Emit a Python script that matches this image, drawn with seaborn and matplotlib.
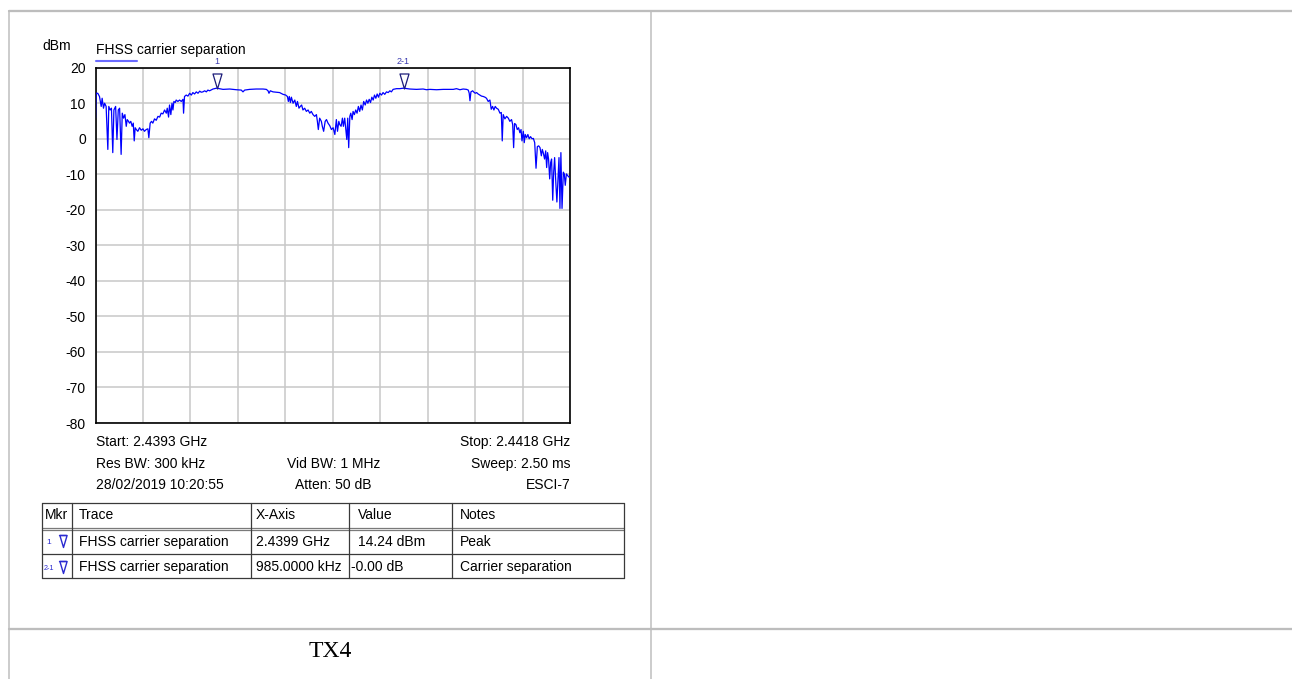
import numpy as np
import pandas as pd
import matplotlib
matplotlib.use("Agg")
import matplotlib.pyplot as plt
import seaborn as sns
from matplotlib.lines import Line2D
from matplotlib.path import Path
import matplotlib.transforms as mtransforms

# ---------------- data ----------------
start_mhz = 2439.3
stop_mhz = 2441.8
freq_khz = [
    0, 3, 12, 21, 30, 35, 42, 48, 56, 65, 70, 77, 84, 91, 97, 106, 113, 120, 127, 135,
    141, 148, 155, 162, 167, 174, 179, 186, 193, 199, 204, 209, 215, 223, 232, 241, 250,
    258, 267, 276, 281, 288, 295, 302, 311, 320, 329, 338, 346, 355, 364, 373, 378, 385,
    390, 397, 403, 408, 413, 420, 425, 434, 443, 452, 461, 464, 469, 478, 487, 496, 505,
    513, 522, 531, 540, 549, 557, 566, 575, 584, 592, 601,
    619, 638, 672, 707, 742, 768, 777, 786, 812, 847, 883, 900, 909, 914, 921, 935, 953,
    970, 988, 1002, 1011, 1016, 1021, 1027, 1032, 1041, 1050, 1058, 1064, 1072, 1079,
    1086, 1093, 1102, 1111, 1120, 1129, 1137, 1146, 1155, 1164, 1169, 1174, 1181, 1190,
    1195, 1202, 1210, 1217, 1225, 1234,
    1243, 1252, 1261, 1269, 1275, 1282, 1287, 1294, 1301, 1306, 1313, 1319, 1324, 1329,
    1334, 1340, 1345, 1352, 1357, 1364, 1371, 1378, 1385, 1392, 1399, 1406, 1413, 1421,
    1428, 1435, 1442, 1449, 1456, 1463, 1470, 1477, 1484, 1491, 1498, 1507, 1515, 1524,
    1533, 1542, 1551, 1559, 1568, 1586, 1603, 1623, 1656, 1691, 1726, 1744, 1762, 1797,
    1832, 1867,
    1885, 1902, 1920, 1937, 1955, 1964, 1969, 1973, 1978, 1987, 1994, 2001, 2008, 2016,
    2025, 2034, 2043, 2052, 2060, 2069, 2078, 2085, 2092, 2099, 2106, 2113, 2122, 2131,
    2138, 2143, 2148, 2157, 2166, 2175, 2183, 2192, 2198, 2203, 2208, 2215, 2222, 2229,
    2236, 2242, 2247, 2254, 2259, 2264, 2271, 2278, 2285, 2292, 2300, 2307, 2314, 2321,
    2328, 2335, 2342, 2349, 2354, 2359, 2366, 2372, 2377, 2382, 2387, 2393, 2398, 2403,
    2409, 2414, 2419, 2426, 2431, 2437, 2442, 2447, 2452, 2458, 2465, 2470, 2475, 2481,
    2488, 2495, 2500,
]
level_dbm = [
    5.8, 12.8, 12.8, 11.9, 9.1, 11.4, 8.6, 10.0, 9.1, -3.0, 9.1, 8.1, 8.6, -3.9, 8.1, 9.1,
    -0.2, 8.1, 8.6, -4.4, 7.2, 5.8, 6.8, 3.5, 5.4, 4.9, 4.4, 4.9, 3.5, 4.4, -0.6, 3.1, 2.6,
    2.1, 3.1, 2.4, 2.8, 2.1, 2.6, 2.8, 0.3, 4.4, 4.9, 4.4, 5.6, 5.2, 6.3, 6.1, 7.2, 7.0,
    8.1, 7.2, 8.6, 6.1, 9.5, 6.8, 10.0, 8.1, 10.5, 10.2, 10.9, 10.5, 10.9, 10.5, 11.1, 7.2,
    11.9, 12.3, 12.0, 12.8, 12.3, 13.0, 12.6, 13.2, 12.8, 13.4, 13.1, 13.2, 13.5, 13.2,
    13.7, 13.5,
    14.0, 14.24, 13.9, 14.0, 13.8, 13.7, 13.2, 13.7, 13.9, 14.0, 14.0, 13.9, 13.5, 12.8,
    13.5, 13.2, 13.1, 13.0, 12.5, 12.3, 11.9, 10.5, 11.9, 10.2, 11.7, 10.0, 10.9, 9.1,
    10.5, 8.6, 9.1, 9.5, 8.1, 8.6, 7.7, 8.1, 7.2, 7.7, 6.8, 6.3, 6.8, 4.9, 2.6, 5.8, 4.9,
    3.5, 2.1, 4.9, 5.4, 4.4, 3.7,
    2.6, 3.1, 1.2, 5.4, 2.1, 4.9, 4.0, 3.5, 5.8, 3.5, 5.8, 2.6, -0.2, 5.8, -2.5, 6.3, 7.2,
    5.4, 7.7, 6.8, 8.1, 7.2, 9.1, 7.7, 9.5, 8.1, 10.5, 9.5, 10.9, 10.0, 11.1, 10.2, 11.7,
    10.9, 12.3, 11.4, 12.6, 11.7, 12.8, 12.3, 13.0, 12.5, 13.2, 13.0, 13.5, 13.2, 13.9,
    14.1, 14.1, 14.24, 14.0, 13.9, 14.0, 13.8, 13.9, 13.8, 13.9, 13.9,
    13.9, 14.1, 13.8, 14.0, 13.9, 13.7, 12.8, 10.7, 13.2, 13.5, 13.1, 12.8, 13.0, 12.6,
    12.3, 12.0, 11.9, 11.7, 11.4, 10.5, 10.9, 8.3, 9.1, 8.1, 9.1, 8.6, 8.3, 7.2, 7.4, -0.6,
    6.8, 5.6, 6.3, 5.8, 4.9, 5.4, 4.0, -2.5, 4.3, 4.0, 2.6, 3.1, 1.7, 2.6, -0.6, 2.1, -1.1,
    1.2, 0.3, 1.2, 0.0, 0.6, 0.0, 0.1, -1.1, -8.3, -2.2, -2.0, -2.5, -4.8, -3.0, -3.9,
    -5.7, -3.4, -8.1, -3.9, -5.7, -11.3, -6.7, -5.7, -17.3, -9.4, -5.3, -13.1, -17.8,
    -11.3, -5.3, -19.6, -3.9, -19.6, -9.4, -9.9, -13.1, -9.9, -10.4, -10.8, -10.8,
]
y_ticks = [20, 10, 0, -10, -20, -30, -40, -50, -60, -70, -80]

marker_labels = ["1", "2-1"]
marker_freq_khz = [638, 1623]
marker_level = [14.24, 14.24]

trace_name = "FHSS carrier separation"
unit_label = "dBm"
info_left = ["Start: 2.4393 GHz", "Res BW: 300 kHz", "28/02/2019 10:20:55"]
info_mid = ["", "Vid BW: 1 MHz", "Atten: 50 dB"]
info_right = ["Stop: 2.4418 GHz", "Sweep: 2.50 ms", "ESCI-7"]

table_header = ["Mkr", "Trace", "X-Axis", "Value", "Notes"]
table_mkr = ["1", "2-1"]
table_trace = ["FHSS carrier separation", "FHSS carrier separation"]
table_xaxis = ["2.4399 GHz", "985.0000 kHz"]
table_value = ["14.24 dBm", "-0.00 dB"]
table_notes = ["Peak", "Carrier separation"]
caption = "TX4"

# ---------------- figure ----------------
W, H = 1292, 679
sns.set_style("white")
plt.rcParams["font.family"] = ["Liberation Sans", "DejaVu Sans"]
plt.rcParams["text.color"] = "black"
plt.rcParams["ytick.color"] = "black"

fig = plt.figure(figsize=(W / 100, H / 100), dpi=100)


def fx(x):
    return x / W


def fy(y):
    return 1 - y / H


PT = 72 / 100  # points per pixel

ax = fig.add_axes([fx(95.5), fy(423), fx(570) - fx(95.5), fy(67.7) - fy(423)])

df = pd.DataFrame({
    "freq": start_mhz + np.asarray(freq_khz, dtype=float) / 1000.0,
    "level": level_dbm,
})
sns.lineplot(data=df, x="freq", y="level", ax=ax, color="#0000ff", lw=0.9,
             estimator=None, sort=False, zorder=3)

ax.set_xlim(start_mhz, stop_mhz)
ax.set_ylim(-80, 20)
ax.set_xticks(np.linspace(start_mhz, stop_mhz, 11))
ax.set_yticks(y_ticks)
ax.set_yticklabels([str(v) for v in y_ticks])
ax.tick_params(axis="x", length=0, labelbottom=False)
ax.tick_params(axis="y", length=0, pad=7, labelsize=10, labelcolor="black")
ax.set_xlabel("")
ax.set_ylabel("")
ax.grid(True, color="#c8c8c8", lw=1.1)
ax.set_axisbelow(True)
for s in ax.spines.values():
    s.set_color("black")
    s.set_linewidth(1.2)
    s.set_visible(True)

# markers
tri = Path([(-0.3, 0.5), (0.3, 0.5), (0.0, -0.5), (-0.3, 0.5)],
           [Path.MOVETO, Path.LINETO, Path.LINETO, Path.CLOSEPOLY])
mk_trans = mtransforms.offset_copy(ax.transData, fig=fig, x=0, y=7.5 * PT, units="points")
mx = start_mhz + np.asarray(marker_freq_khz, dtype=float) / 1000.0
ax.plot(mx, marker_level, ls="none", marker=tri, ms=15 * PT, mfc="none",
        mec="#1c1c7a", mew=0.9, transform=mk_trans, clip_on=False, zorder=4)
for lab, f in zip(marker_labels, mx):
    ax.annotate(lab, xy=(f, 20), xycoords="data", xytext=(0, 6.5 * PT),
                textcoords="offset points", ha="center", va="center",
                fontsize=6.5, color="#3a3ab0", annotation_clip=False)

# legend / labels above plot
fig.text(fx(42), fy(49.7), unit_label, fontsize=10, ha="left", va="baseline")
fig.text(fx(95.7), fy(53.7), trace_name, fontsize=10, ha="left", va="baseline")
fig.add_artist(Line2D([fx(96), fx(137)], [fy(60.7), fy(60.7)], color="#6a6aff", lw=1.5))

# info rows
rows_y = [446.4, 468.0, 489.0]
for i, yb in enumerate(rows_y):
    fig.text(fx(95.7), fy(yb), info_left[i], fontsize=10, ha="left", va="baseline")
    if info_mid[i]:
        fig.text(fx(333.5), fy(yb), info_mid[i], fontsize=10, ha="center", va="baseline")
    fig.text(fx(570.7), fy(yb), info_right[i], fontsize=10, ha="right", va="baseline")

# table
t_left, t_right = 42, 624
t_top, t_hdr1, t_hdr2, t_row1, t_bot = 502.7, 527.6, 530.0, 554.3, 578.3
col_div = [71.7, 250.6, 348.5, 452.3]
lc = "#3a3a3a"
for y in [t_top, t_row1, t_bot]:
    fig.add_artist(Line2D([fx(t_left), fx(t_right)], [fy(y), fy(y)], color=lc, lw=0.9))
for y in [t_hdr1, t_hdr2]:
    fig.add_artist(Line2D([fx(t_left), fx(t_right)], [fy(y), fy(y)], color="#7a7a7a", lw=0.9))
for x in [t_left] + col_div + [t_right]:
    fig.add_artist(Line2D([fx(x), fx(x)], [fy(t_top), fy(t_bot)], color=lc, lw=0.9))

hdr_x = [45, 79, 256, 358, 460]
hdr_b = 519.0
for x, txt in zip(hdr_x, table_header):
    fig.text(fx(x), fy(hdr_b), txt, fontsize=10, ha="left", va="baseline")

row_b = [545.7, 571.4]
row_c = [541.0, 566.7]
value_x = [358, 350.7]
mkr_x = [49.0, 48.6]
mkr_fs = [6.0, 5.2]
for i in range(2):
    yb = row_b[i]
    fig.text(fx(79), fy(yb), table_trace[i], fontsize=10, ha="left", va="baseline")
    fig.text(fx(256), fy(yb), table_xaxis[i], fontsize=10, ha="left", va="baseline")
    fig.text(fx(value_x[i]), fy(yb), table_value[i], fontsize=10, ha="left", va="baseline")
    fig.text(fx(460), fy(yb), table_notes[i], fontsize=10, ha="left", va="baseline")
    fig.text(fx(mkr_x[i]), fy(row_c[i] + 1.5), table_mkr[i], fontsize=mkr_fs[i],
             color="#2a2ad0", ha="center", va="center")
    fig.add_artist(Line2D([fx(62.5)], [fy(row_c[i])], ls="none", marker=tri, ms=12 * PT,
                          mfc="none", mec="#2a2ad0", mew=1.0))
    fig.add_artist(Line2D([fx(59.3), fx(65.7)], [fy(row_c[i] - 5.6)] * 2,
                          color="#2a2ad0", lw=1.0))

# outer layout grid lines
gc = "#bdbdbd"
fig.add_artist(Line2D([fx(8.5), 1], [fy(10.5), fy(10.5)], color=gc, lw=2.3 * PT))
fig.add_artist(Line2D([fx(8.5), 1], [fy(628.8), fy(628.8)], color=gc, lw=2.3 * PT))
fig.add_artist(Line2D([fx(8.5), fx(8.5)], [fy(10.5), 0], color=gc, lw=1.5 * PT))
fig.add_artist(Line2D([fx(651), fx(651)], [fy(10.5), 0], color=gc, lw=1.5 * PT))

fig.text(fx(330.5), fy(657.3), caption, fontsize=17, ha="center", va="baseline",
         family=["Liberation Serif", "DejaVu Serif"])

fig.savefig("out.png", dpi=100)
